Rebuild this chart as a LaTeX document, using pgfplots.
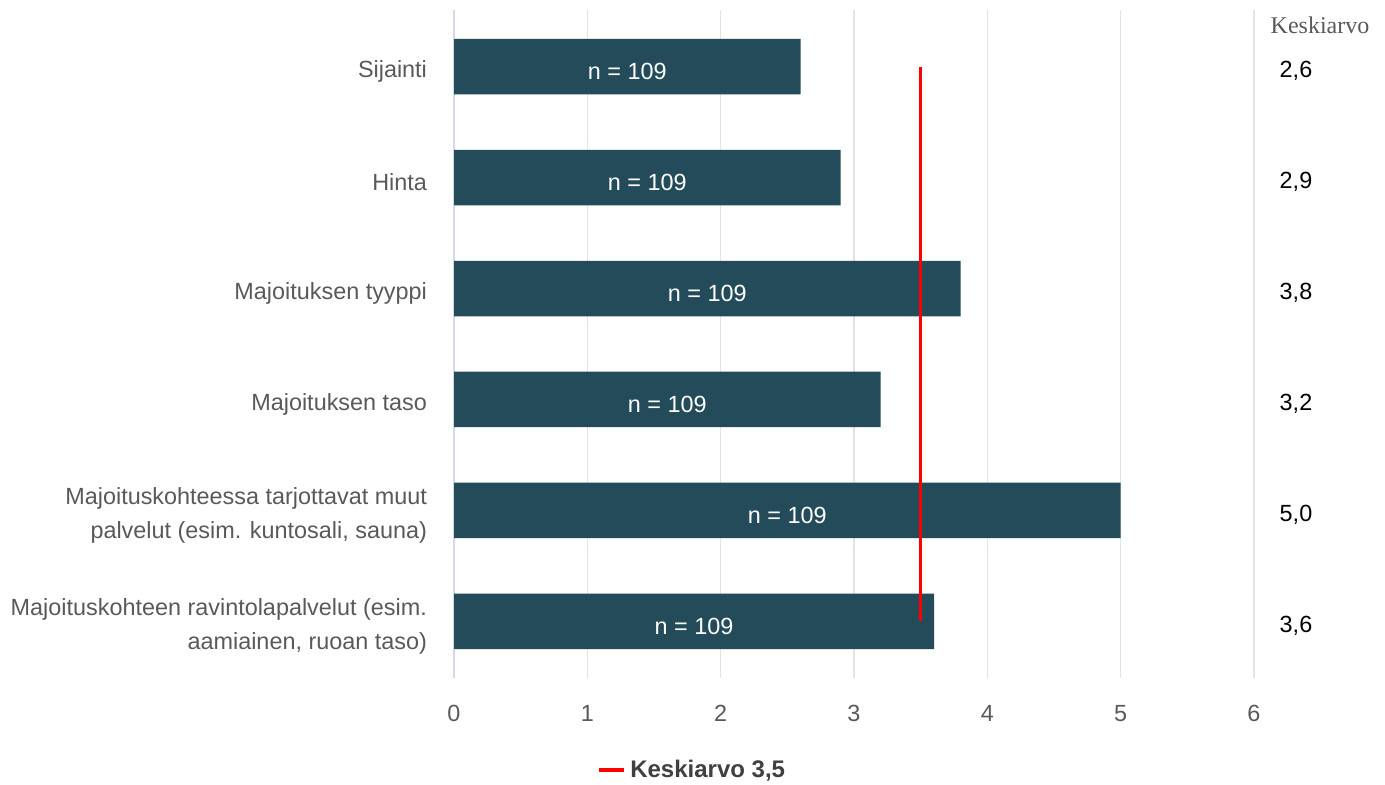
\documentclass[border=0pt]{standalone}
\usepackage{fontspec}
\setmainfont{Liberation Sans}
\newfontfamily\seriffont{Liberation Serif}
\usepackage{pgfplots}
\pgfplotsset{compat=1.18}
\definecolor{barcol}{HTML}{234B5A}
\definecolor{labgray}{HTML}{595959}
\definecolor{gridgray}{HTML}{E3E3E3}
\definecolor{zeroline}{HTML}{D4D8E8}
\definecolor{leggray}{HTML}{404040}
\definecolor{meanred}{HTML}{FF0000}
\begin{document}
\begin{tikzpicture}
\begin{axis}[
  at={(227pt,53.5pt)}, anchor=south west,
  scale only axis, width=400pt, height=334pt,
  xmin=0, xmax=6, ymin=-0.51, ymax=5.51,
  y dir=reverse,
  axis line style={draw=none},
  xtick={0,...,6}, ytick={0,...,5},
  major tick length=0pt,
  xmajorgrids, grid style={gridgray, line width=0.75pt},
  extra x ticks={0}, extra x tick labels={},
  extra x tick style={grid style={zeroline, line width=0.75pt}},
  /pgf/number format/assume math mode=true,
  ticklabel style={font=\fontsize{11.7}{17}\selectfont, text=labgray},
  xticklabel style={yshift=-10pt},
  yticklabels={Sijainti, Hinta, Majoituksen tyyppi, Majoituksen taso,
    {Majoituskohteessa tarjottavat muut\\palvelut (esim. kuntosali, sauna)},
    {Majoituskohteen ravintolapalvelut (esim.\\aamiainen, ruoan taso)}},
  yticklabel style={align=right, xshift=-10pt, yshift=-2.5pt},
  clip=false,
  legend style={at={(0.299,-0.138)}, anchor=center, draw=none,
    font=\fontsize{12}{14}\selectfont\bfseries, text=leggray},
  legend image code/.code={\draw[meanred, line width=2pt] (0pt,0pt) -- (12.5pt,0pt);},
]
% mean scores per accommodation factor
\addplot[xbar, fill=barcol, draw=none, bar width=0.5, forget plot]
  coordinates {(2.6,0) (2.9,1) (3.8,2) (3.2,3) (5.0,4) (3.6,5)};
% overall mean
\addplot[meanred, line width=1.7pt] coordinates {(3.5,0) (3.5,5)};
\addlegendentry{Keskiarvo 3,5}
% respondent counts inside the bars
\foreach \v/\k in {2.6/0, 2.9/1, 3.8/2, 3.2/3, 5.0/4, 3.6/5} {
  \pgfmathsetmacro{\h}{\v/2}
  \edef\tmp{\noexpand\node[text=white, yshift=-2.5pt, font=\noexpand\fontsize{11.7}{14}\noexpand\selectfont] at (axis cs:\h,\k) {n = 109};}
  \tmp
}
% mean values column
\node[font=\seriffont\fontsize{12}{14}\selectfont, text=labgray, yshift=-1pt] at (axis cs:6.495,-0.387) {Keskiarvo};
\foreach \t/\k in {{2,6}/0, {2,9}/1, {3,8}/2, {3,2}/3, {5,0}/4, {3,6}/5} {
  \edef\tmp{\noexpand\node[text=black, yshift=-2pt, font=\noexpand\fontsize{11.7}{14}\noexpand\selectfont] at (axis cs:6.315,\k) {\t};}
  \tmp
}
\end{axis}
\pgfresetboundingbox
\path (0,0) rectangle (692.5pt,392.5pt);
\end{tikzpicture}
\end{document}
